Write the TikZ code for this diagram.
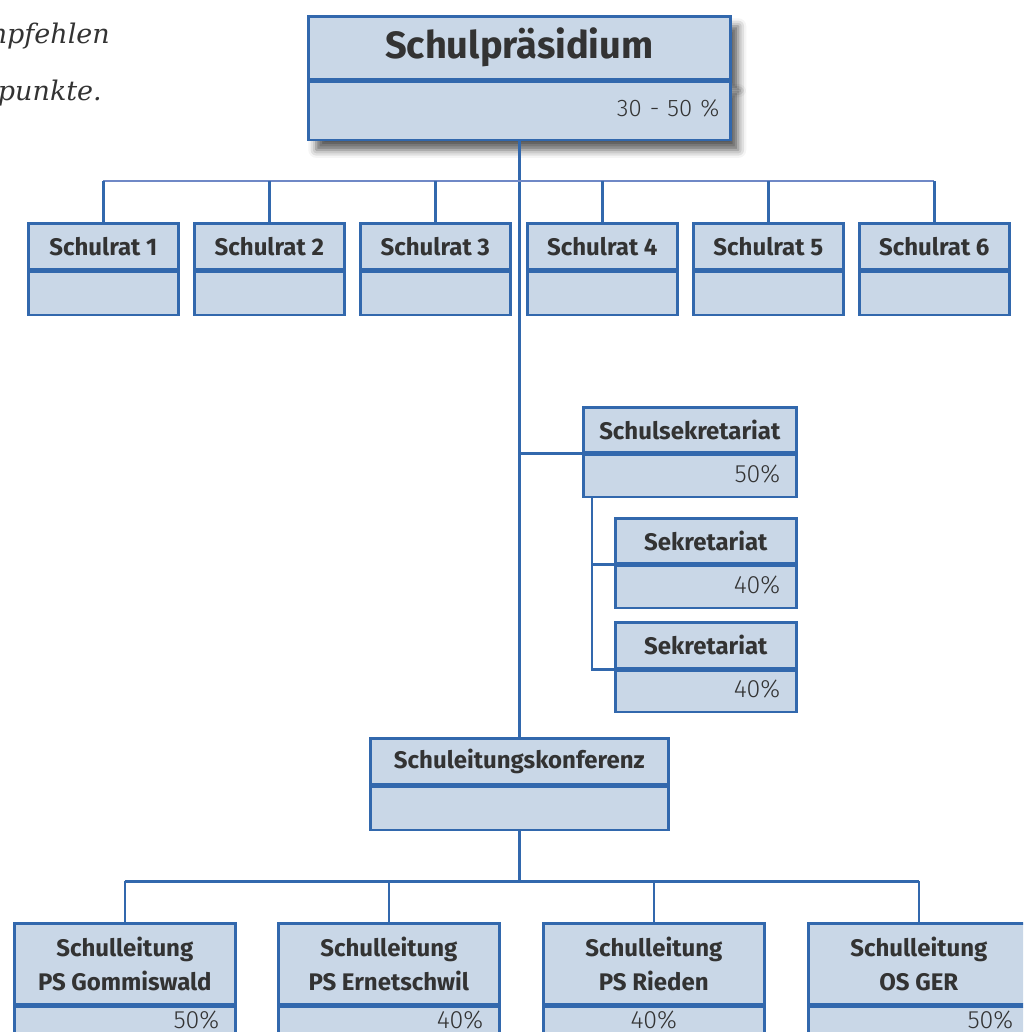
\documentclass[tikz,border=0pt]{standalone}
\usepackage{fontspec}
\setmainfont{Fira Sans}
\newfontfamily\lightfont{Fira Sans Light}
\newfontfamily\notefont{DejaVu Serif}
\usetikzlibrary{shadows.blur}

\definecolor{boxblue}{HTML}{3268AD}
\definecolor{boxfill}{HTML}{C9D7E7}
\definecolor{busblue}{HTML}{6F88C6}
\definecolor{inkgray}{HTML}{333333}

\tikzset{
	head/.style 2 args={draw=boxblue, fill=boxfill, line width=2.6pt, inner sep=0pt, anchor=north west, minimum width=#1, minimum height=#2, align=center, text=inkgray, font=\fontsize{24}{34}\selectfont\bfseries},
	foot/.style 2 args={draw=boxblue, fill=boxfill, line width=2.6pt, inner xsep=16pt, inner ysep=0pt, anchor=north west, text width=#1, minimum height=#2, text depth=5pt, align=right, text=inkgray, font=\lightfont\fontsize{25}{28}\selectfont},
	link/.style={draw=boxblue, line width=2.6pt},
	boxshadow/.style={blur shadow={shadow xshift=8pt, shadow yshift=-10pt, shadow blur radius=8pt, shadow opacity=65}}
}

\begin{document}
\begin{tikzpicture}[x=1pt, y=-1pt]
			%%%%% START %%%%%
			
			\useasboundingbox (0,0) rectangle (1023,1032);
			\clip (0,0) rectangle (1023,1032);
			
			\node[anchor=base east, inner sep=0pt, text=inkgray, font=\notefont\itshape\fontsize{27}{30}\selectfont] (note1) at (110,44) {mpfehlen};
			\node[anchor=base east, inner sep=0pt, text=inkgray, font=\notefont\itshape\fontsize{27}{30}\selectfont] (note2) at (102,101) {punkte.};
			
			\node[head={422pt}{63pt}, boxshadow, font=\fontsize{38}{40}\selectfont\bfseries] (praes) at (307,15) {Schulpräsidium};
			\node[foot={400pt}{58pt}, boxshadow, inner xsep=11pt, font=\lightfont\fontsize{24}{28}\selectfont] (praes-v) at (praes.south west) {30 - 50 \%};
			
			\node[head={150pt}{46pt}] (sr1) at (27,222) {Schulrat 1};
			\node[foot={118pt}{43pt}] (sr1-v) at (sr1.south west) {};
			\node[head={150pt}{46pt}] (sr2) at (193,222) {Schulrat 2};
			\node[foot={118pt}{43pt}] (sr2-v) at (sr2.south west) {};
			\node[head={150pt}{46pt}] (sr3) at (359,222) {Schulrat 3};
			\node[foot={118pt}{43pt}] (sr3-v) at (sr3.south west) {};
			\node[head={150pt}{46pt}] (sr4) at (526,222) {Schulrat 4};
			\node[foot={118pt}{43pt}] (sr4-v) at (sr4.south west) {};
			\node[head={150pt}{46pt}] (sr5) at (692,222) {Schulrat 5};
			\node[foot={118pt}{43pt}] (sr5-v) at (sr5.south west) {};
			\node[head={150pt}{46pt}] (sr6) at (858,222) {Schulrat 6};
			\node[foot={118pt}{43pt}] (sr6-v) at (sr6.south west) {};
			
			\node[head={213pt}{45pt}] (sek) at (582,406) {Schulsekretariat};
			\node[foot={181pt}{42pt}] (sek-v) at (sek.south west) {50\%};
			\node[head={181pt}{45pt}] (sek1) at (614,517) {Sekretariat};
			\node[foot={149pt}{42pt}] (sek1-v) at (sek1.south west) {40\%};
			\node[head={181pt}{46pt}] (sek2) at (614,621) {Sekretariat};
			\node[foot={149pt}{41pt}] (sek2-v) at (sek2.south west) {40\%};
			
			\node[head={298pt}{46pt}] (konf) at (369,737) {Schuleitungskonferenz};
			\node[foot={266pt}{43pt}] (konf-v) at (konf.south west) {};
			
			\node[head={221pt}{81pt}] (sl1) at (13,922) {Schulleitung\\PS Gommiswald};
			\node[foot={189pt}{30pt}] (sl1-v) at (sl1.south west) {50\%};
			\node[head={221pt}{81pt}] (sl2) at (277,922) {Schulleitung\\PS Ernetschwil};
			\node[foot={189pt}{30pt}] (sl2-v) at (sl2.south west) {40\%};
			\node[head={221pt}{81pt}] (sl3) at (542,922) {Schulleitung\\PS Rieden};
			\node[foot={189pt}{30pt}, align=center] (sl3-v) at (sl3.south west) {40\%};
			\node[head={221pt}{81pt}] (sl4) at (807,922) {Schulleitung\\OS GER};
			\node[foot={189pt}{30pt}] (sl4-v) at (sl4.south west) {50\%};
			
			\coordinate (rbus) at ([yshift=-40pt]praes-v.south);
			\coordinate (lbus) at ([yshift=-50pt]konf-v.south);
			\coordinate (sekdrop) at ([xshift=10pt]sek-v.south west);
			
			\draw[link] (praes-v.south) -- (konf.north);
			\draw[link, draw=busblue] (sr1.north |- rbus) -- (sr6.north |- rbus);
			\draw[link] (sr1.north) -- (sr1.north |- rbus);
			\draw[link] (sr2.north) -- (sr2.north |- rbus);
			\draw[link] (sr3.north) -- (sr3.north |- rbus);
			\draw[link] (sr4.north) -- (sr4.north |- rbus);
			\draw[link] (sr5.north) -- (sr5.north |- rbus);
			\draw[link] (sr6.north) -- (sr6.north |- rbus);
			
			\draw[link] (sek.south west) -- (sek.south west -| praes-v.south);
			\draw[link] (sekdrop) |- (sek1.south west);
			\draw[link] (sekdrop) |- (sek2.south west);
			
			\draw[link] (konf-v.south) -- (lbus);
			\draw[link] (sl1.north |- lbus) -- (sl4.north |- lbus);
			\draw[link] (sl1.north) -- (sl1.north |- lbus);
			\draw[link] (sl2.north) -- (sl2.north |- lbus);
			\draw[link] (sl3.north) -- (sl3.north |- lbus);
			\draw[link] (sl4.north) -- (sl4.north |- lbus);
			
			%%%%% END %%%%%
\end{tikzpicture}
\end{document}
